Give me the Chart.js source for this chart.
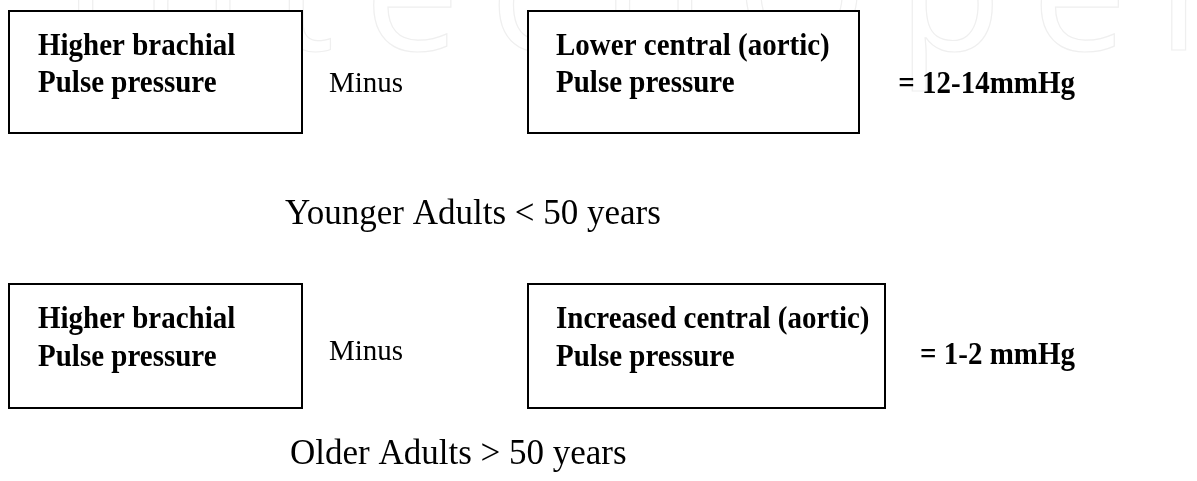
<!DOCTYPE html>
<html>
<head>
<meta charset="utf-8">
<script src="https://cdn.jsdelivr.net/npm/chart.js@4.4.1/dist/chart.umd.min.js"></script>
<style>
  html, body { margin: 0; padding: 0; background: #fff; }
  #wrap { width: 1197px; height: 481px; position: relative; }
</style>
</head>
<body>
<div id="wrap"><canvas id="diagram"></canvas></div>
<script>
// Pulse pressure amplification: brachial minus central, by age group
const groups      = ['Younger Adults < 50 years', 'Older Adults > 50 years'];
const leftBox     = ['Higher brachial', 'Pulse pressure'];
const rightBoxes  = [
    ['Lower central (aortic)', 'Pulse pressure'],
    ['Increased central (aortic)', 'Pulse pressure']
];
const operators   = ['Minus', 'Minus'];
const differences = ['= 12-14mmHg', '= 1-2 mmHg'];
const watermark   = 'IntechOpen';

const serif = "'Liberation Serif', 'Times New Roman', serif";
const stretch = 1.08;  // box text in the original is a touch taller than wide

// layout (scale units; scales run 0..1197 and 0..481 so 1 unit = 1px)
const rowTop     = [11, 284];
const rowBottom  = [133, 408];
const leftX      = [9, 302];
const rightX     = [[528, 859], [528, 885]];
const lineBase   = [[55, 92], [328, 366]];
const opX        = 329;
const opBase     = [92, 360];
const diffRight  = 1075;
const diffBase   = [93, 364];
const groupX     = [285, 290];
const groupY     = [215, 455];

// draw text with a slight vertical stretch about its baseline
function tallText(ctx, text, x, y) {
    ctx.save();
    ctx.translate(x, y);
    ctx.scale(1, stretch);
    ctx.fillText(text, 0, 0);
    ctx.restore();
}

const diagramPlugin = {
    id: 'diagram',
    beforeDraw(chart) {
        const { ctx, scales: { x, y } } = chart;
        ctx.save();
        ctx.fillStyle = '#fff';
        ctx.fillRect(0, 0, chart.width, chart.height);

        // faint publisher watermark, only its lower part shows at the top edge
        ctx.font = "170px 'Open Sans', sans-serif";
        ctx.letterSpacing = '30px';
        ctx.strokeStyle = '#efefef';
        ctx.lineWidth = 1.2;
        ctx.textBaseline = 'alphabetic';
        ctx.textAlign = 'left';
        ctx.strokeText(watermark, x.getPixelForValue(62), y.getPixelForValue(50));
        ctx.restore();
    },
    afterDraw(chart) {
        const { ctx, scales: { x, y } } = chart;
        const px = v => x.getPixelForValue(v);
        const py = v => y.getPixelForValue(v);

        ctx.save();
        ctx.strokeStyle = '#000';
        ctx.fillStyle = '#000';
        ctx.lineWidth = 2;

        groups.forEach((g, i) => {
            const top = py(rowTop[i]), bot = py(rowBottom[i]);
            [[leftX[0], leftX[1]], rightX[i]].forEach(([a, b]) => {
                ctx.fillStyle = '#fff';
                ctx.fillRect(px(a), top, px(b) - px(a), bot - top);
                ctx.strokeRect(px(a), top, px(b) - px(a), bot - top);
            });
            ctx.fillStyle = '#000';

            ctx.textBaseline = 'alphabetic';
            ctx.font = `bold 29px ${serif}`;
            ctx.textAlign = 'left';
            leftBox.forEach((t, j) => tallText(ctx, t, px(leftX[0] + 29), py(lineBase[i][j])));
            rightBoxes[i].forEach((t, j) => tallText(ctx, t, px(rightX[i][0] + 28), py(lineBase[i][j])));

            ctx.font = `29px ${serif}`;
            ctx.fillText(operators[i], px(opX), py(opBase[i]));

            ctx.font = `bold 29px ${serif}`;
            ctx.textAlign = 'right';
            tallText(ctx, differences[i], px(diffRight), py(diffBase[i]));

            ctx.textBaseline = 'middle';
            ctx.font = `35px ${serif}`;
            ctx.textAlign = 'left';
            ctx.fillText(g, px(groupX[i]), py(groupY[i]));
        });
        ctx.restore();
    }
};

new Chart(document.getElementById('diagram'), {
    type: 'scatter',
    data: { datasets: [{ data: [], pointRadius: 0 }] },
    options: {
        responsive: true,
        maintainAspectRatio: false,
        animation: false,
        events: [],
        layout: { padding: 0 },
        plugins: { legend: { display: false }, tooltip: { enabled: false } },
        scales: {
            x: { type: 'linear', min: 0, max: 1197, display: false },
            y: { type: 'linear', min: 0, max: 481, reverse: true, display: false }
        }
    },
    plugins: [diagramPlugin]
});
</script>
</body>
</html>
